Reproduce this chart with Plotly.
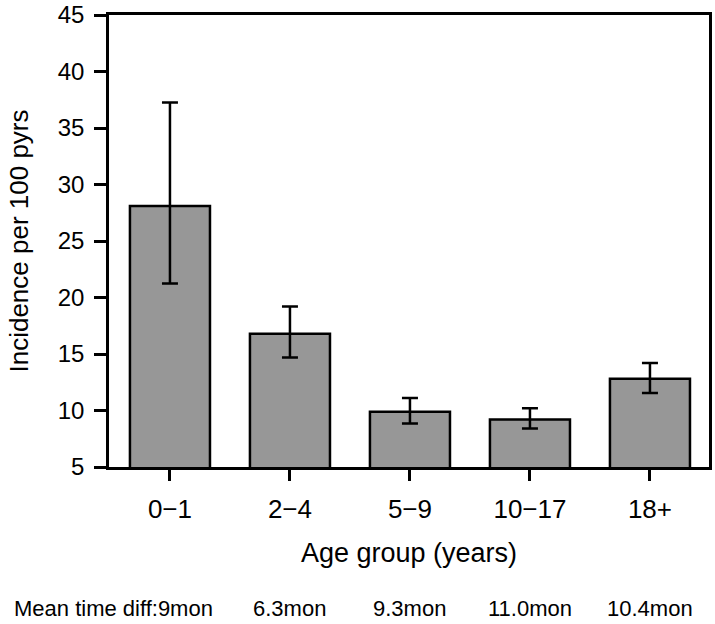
import plotly.graph_objects as go

# ---- data ----
age_groups = ["0\u22121", "2\u22124", "5\u22129", "10\u221217", "18+"]
incidence = [28.1, 16.8, 9.9, 9.2, 12.8]
ci_upper = [37.25, 19.2, 11.1, 10.2, 14.2]
ci_lower = [21.25, 14.7, 8.85, 8.4, 11.55]
mean_diff_prefix = "Mean time diff:"
mean_diff_labels = ["9mon", "6.3mon", "9.3mon", "11.0mon", "10.4mon"]
y_ticks = [5, 10, 15, 20, 25, 30, 35, 40, 45]

FONT = "Liberation Sans, Arial, Helvetica, sans-serif"
xpos = list(range(len(age_groups)))

err_plus = [u - v for u, v in zip(ci_upper, incidence)]
err_minus = [v - l for v, l in zip(incidence, ci_lower)]

TOP, BOTTOM = 15, 467
plot_h = BOTTOM - TOP

fig = go.Figure()
fig.add_trace(go.Bar(
    x=xpos, y=incidence, width=0.667,
    marker=dict(color="#979797", line=dict(color="black", width=2.5)),
    error_y=dict(type="data", array=err_plus, arrayminus=err_minus,
                 color="black", thickness=2.5, width=8),
    showlegend=False, hoverinfo="skip",
))

annotations = []
for i, lab in enumerate(mean_diff_labels):
    if i == 0:
        annotations.append(dict(
            text=mean_diff_prefix + lab, xref="paper", yref="paper",
            x=(12 - 109) / 600, y=(BOTTOM - 608) / plot_h,
            xanchor="left", yanchor="middle", showarrow=False,
            font=dict(size=22, color="black", family=FONT)))
    else:
        annotations.append(dict(
            text=lab, xref="x", yref="paper",
            x=xpos[i], y=(BOTTOM - 608) / plot_h,
            xanchor="center", yanchor="middle", showarrow=False,
            font=dict(size=22, color="black", family=FONT)))

fig.update_layout(
    width=715, height=624,
    margin=dict(l=109, r=6, t=TOP, b=624 - BOTTOM, autoexpand=False),
    paper_bgcolor="white", plot_bgcolor="white",
    font=dict(family=FONT, color="black"),
    annotations=annotations,
    xaxis=dict(
        range=[-0.508, 4.492], tickmode="array", tickvals=xpos, ticktext=age_groups,
        ticks="outside", ticklen=11, tickwidth=2.5, tickcolor="black",
        showline=True, linecolor="black", linewidth=2.5, mirror=True,
        showgrid=False, zeroline=False, automargin=False,
        tickfont=dict(size=26, color="black", family=FONT),
        ticklabelstandoff=6, ticklabeloverflow="allow",
        title=dict(text="Age group (years)", font=dict(size=27, color="black", family=FONT),
                   standoff=21),
    ),
    yaxis=dict(
        range=[5, 45], tickmode="array", tickvals=y_ticks,
        ticks="outside", ticklen=12, tickwidth=2.5, tickcolor="black",
        showline=True, linecolor="black", linewidth=2.5, mirror=True,
        showgrid=False, zeroline=False, automargin=False,
        tickfont=dict(size=24, color="black", family=FONT),
        ticklabelstandoff=5, ticklabeloverflow="allow",
        title=dict(text="Incidence per 100 pyrs", font=dict(size=26, color="black", family=FONT),
                   standoff=22),
    ),
)

fig.write_html(
    "out.html",
    config={"displayModeBar": False},
    post_script="document.body.style.margin='0';document.body.style.overflow='hidden';",
)
